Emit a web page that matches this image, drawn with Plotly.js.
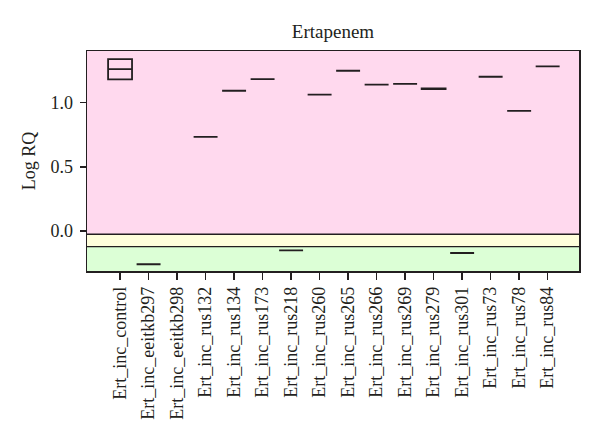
<!DOCTYPE html>
<html>
<head>
<meta charset="utf-8">
<script src="https://cdn.plot.ly/plotly-3.0.1.min.js"></script>
<style>
  body { margin: 0; background: #fff; }
  #chart { width: 600px; height: 447px; }
</style>
</head>
<body>
<div id="chart"></div>
<script>
// samples on the x axis (eeitkb298 has no value)
const samples = [
  'Ert_inc_control', 'Ert_inc_eeitkb297', 'Ert_inc_eeitkb298', 'Ert_inc_rus132',
  'Ert_inc_rus134', 'Ert_inc_rus173', 'Ert_inc_rus218', 'Ert_inc_rus260',
  'Ert_inc_rus265', 'Ert_inc_rus266', 'Ert_inc_rus269', 'Ert_inc_rus279',
  'Ert_inc_rus301', 'Ert_inc_rus73', 'Ert_inc_rus78', 'Ert_inc_rus84'
];
// log RQ box stats
const q1     = [1.183, -0.26, null, 0.734, 1.094, 1.185, -0.151, 1.063, 1.25, 1.141, 1.148, 1.107, -0.172, 1.203, 0.937, 1.284];
const median = [1.263, -0.26, null, 0.734, 1.094, 1.185, -0.151, 1.063, 1.25, 1.141, 1.148, 1.110, -0.172, 1.203, 0.937, 1.284];
const q3     = [1.341, -0.26, null, 0.734, 1.094, 1.185, -0.151, 1.063, 1.25, 1.141, 1.148, 1.113, -0.172, 1.203, 0.937, 1.284];

// background bands (log RQ limits)
const bandTop = -0.026;
const bandMid = -0.122;

const keep = samples.map((s, i) => i).filter(i => median[i] !== null);

const trace = {
  type: 'box',
  x: keep,
  q1: keep.map(i => q1[i]),
  median: keep.map(i => median[i]),
  q3: keep.map(i => q3[i]),
  lowerfence: keep.map(i => q1[i]),
  upperfence: keep.map(i => q3[i]),
  width: 0.84,
  fillcolor: 'rgba(0,0,0,0)',
  line: {color: '#231f20', width: 1.8},
  whiskerwidth: 0,
  boxpoints: false,
  hoverinfo: 'skip',
  showlegend: false
};

const font = {family: '"Liberation Serif", "DejaVu Serif", serif', color: '#231f20'};

const layout = {
  width: 600,
  height: 447,
  margin: {l: 87, r: 21, t: 51, b: 176},
  paper_bgcolor: '#fff',
  plot_bgcolor: '#fff',
  font: Object.assign({size: 18}, font),
  title: {text: 'Ertapenem', font: Object.assign({size: 19}, font), x: 0.555, xanchor: 'center', y: 0.93, yanchor: 'middle'},
  xaxis: {
    range: [-1.16, 16.1],
    tickmode: 'array',
    tickvals: samples.map((s, i) => i),
    ticktext: samples,
    tickangle: -90,
    ticks: 'outside', ticklen: 7, tickwidth: 1.3, tickcolor: '#231f20',
    showgrid: false, zeroline: false,
    showline: true, mirror: true, linecolor: '#231f20', linewidth: 1.5,
    tickfont: Object.assign({size: 18}, font)
  },
  yaxis: {
    range: [-0.3125, 1.404],
    tickvals: [0, 0.5, 1],
    ticktext: ['0.0', '0.5', '1.0'],
    ticks: 'outside', ticklen: 6, tickwidth: 1.3, tickcolor: '#231f20',
    ticklabelstandoff: 3,
    showgrid: false, zeroline: false,
    showline: true, mirror: true, linecolor: '#231f20', linewidth: 1.5,
    tickfont: Object.assign({size: 18}, font),
    title: {text: 'Log RQ', font: Object.assign({size: 18}, font), standoff: 10}
  },
  shapes: [
    {type: 'rect', xref: 'paper', yref: 'y', x0: 0, x1: 1, y0: bandTop, y1: 1.404, fillcolor: '#ffd9ee', line: {width: 0}, layer: 'below'},
    {type: 'rect', xref: 'paper', yref: 'y', x0: 0, x1: 1, y0: bandMid, y1: bandTop, fillcolor: '#ffffdc', line: {width: 0}, layer: 'below'},
    {type: 'rect', xref: 'paper', yref: 'y', x0: 0, x1: 1, y0: -0.3125, y1: bandMid, fillcolor: '#dcffd6', line: {width: 0}, layer: 'below'},
    {type: 'line', xref: 'paper', yref: 'y', x0: 0, x1: 1, y0: bandTop, y1: bandTop, line: {color: '#231f20', width: 1.4}},
    {type: 'line', xref: 'paper', yref: 'y', x0: 0, x1: 1, y0: bandMid, y1: bandMid, line: {color: '#231f20', width: 1.4}}
  ]
};

Plotly.newPlot('chart', [trace], layout, {displayModeBar: false, staticPlot: true});
</script>
</body>
</html>
